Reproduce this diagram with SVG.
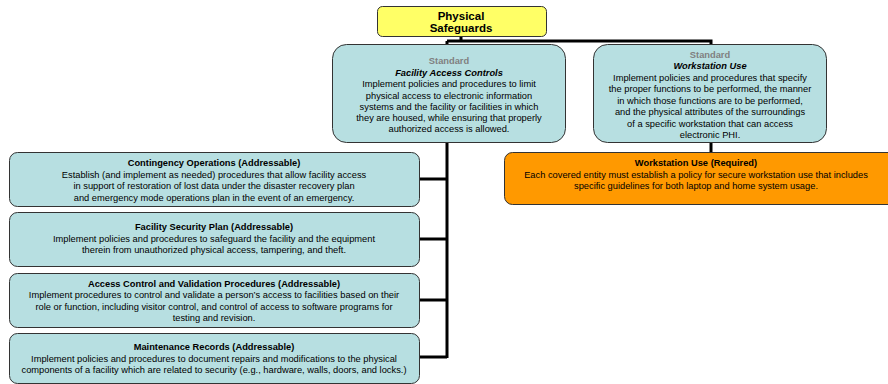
<svg xmlns="http://www.w3.org/2000/svg" width="888" height="384" viewBox="0 0 888 384">
  <style>
    text { font-family: "Liberation Sans", Arial, sans-serif; font-size: 9.3px; fill: #000; text-anchor: middle; }
    .b { font-weight: bold; }
    .std { font-weight: bold; fill: #808080; }
    .bi { font-weight: bold; font-style: italic; }
    .head { font-weight: bold; font-size: 11.5px; }
    .teal { fill: #B7DFE1; stroke: #333; stroke-width: 1; }
    .yellow { fill: #FFFF66; stroke: #333; stroke-width: 1; }
    .orange { fill: #FF9900; stroke: #333; stroke-width: 1; }
    .wire { fill: none; stroke: #000; stroke-width: 3; }
  </style>
  <rect width="888" height="384" fill="#fff"/>

  <!-- connectors -->
  <g id="connectors">
    <path class="wire" d="M461 36 V41 M447 41 H711 V44"/>
    <path class="wire" d="M447 41 V358"/>
    <path class="wire" d="M419 179 H447 M419 239 H447 M419 300 H447 M419 357 H447"/>
    <path class="wire" d="M711 143 V152"/>
  </g>

  <g id="physical-safeguards">
    <rect class="yellow" x="377.5" y="6.5" width="169" height="30" rx="5"/>
    <text class="head" x="461" y="19.5">Physical</text>
    <text class="head" x="461" y="32">Safeguards</text>
  </g>

  <g id="facility-access-controls">
    <rect class="teal" x="332.5" y="44.5" width="233" height="98" rx="14"/>
    <text class="std" x="449" y="64">Standard</text>
    <text class="bi" x="449" y="75.5">Facility Access Controls</text>
    <text x="449" y="87">Implement policies and procedures to limit</text>
    <text x="449" y="98.5">physical access to electronic information</text>
    <text x="449" y="109.5">systems and the facility or facilities in which</text>
    <text x="449" y="120.5">they are housed, while ensuring that properly</text>
    <text x="449" y="131.5">authorized access is allowed.</text>
  </g>

  <g id="workstation-use-standard">
    <rect class="teal" x="593.5" y="44.5" width="233" height="98" rx="14"/>
    <text class="std" x="710" y="58">Standard</text>
    <text class="bi" x="710" y="69">Workstation Use</text>
    <text x="710" y="80.5">Implement policies and procedures that specify</text>
    <text x="710" y="92">the proper functions to be performed, the manner</text>
    <text x="710" y="103.5">in which those functions are to be performed,</text>
    <text x="710" y="115">and the physical attributes of the surroundings</text>
    <text x="710" y="126.5">of a specific workstation that can access</text>
    <text x="710" y="138">electronic PHI.</text>
  </g>

  <g id="contingency-operations">
    <rect class="teal" x="9.5" y="152.5" width="410" height="54" rx="8"/>
    <text class="b" x="214" y="166">Contingency Operations (Addressable)</text>
    <text x="214" y="177.5">Establish (and implement as needed) procedures that allow facility access</text>
    <text x="214" y="189">in support of restoration of lost data under the disaster recovery plan</text>
    <text x="214" y="200.5">and emergency mode operations plan in the event of an emergency.</text>
  </g>

  <g id="facility-security-plan">
    <rect class="teal" x="9.5" y="212.5" width="410" height="54" rx="8"/>
    <text class="b" x="214" y="230">Facility Security Plan (Addressable)</text>
    <text x="214" y="241.5">Implement policies and procedures to safeguard the facility and the equipment</text>
    <text x="214" y="253">therein from unauthorized physical access, tampering, and theft.</text>
  </g>

  <g id="access-control-validation">
    <rect class="teal" x="9.5" y="273.5" width="410" height="54" rx="8"/>
    <text class="b" x="214" y="286.5">Access Control and Validation Procedures (Addressable)</text>
    <text x="214" y="298">Implement procedures to control and validate a person’s access to facilities based on their</text>
    <text x="214" y="309.5">role or function, including visitor control, and control of access to software programs for</text>
    <text x="214" y="321">testing and revision.</text>
  </g>

  <g id="maintenance-records">
    <rect class="teal" x="9.5" y="333.5" width="410" height="50" rx="8"/>
    <text class="b" x="214" y="350">Maintenance Records (Addressable)</text>
    <text x="214" y="361.5">Implement policies and procedures to document repairs and modifications to the physical</text>
    <text x="214" y="373">components of a facility which are related to security (e.g., hardware, walls, doors, and locks.)</text>
  </g>

  <g id="workstation-use-required">
    <rect class="orange" x="504.5" y="152.5" width="392" height="52" rx="8"/>
    <text class="b" x="696" y="166">Workstation Use (Required)</text>
    <text x="696" y="177.5">Each covered entity must establish a policy for secure workstation use that includes</text>
    <text x="696" y="189">specific guidelines for both laptop and home system usage.</text>
  </g>
</svg>
